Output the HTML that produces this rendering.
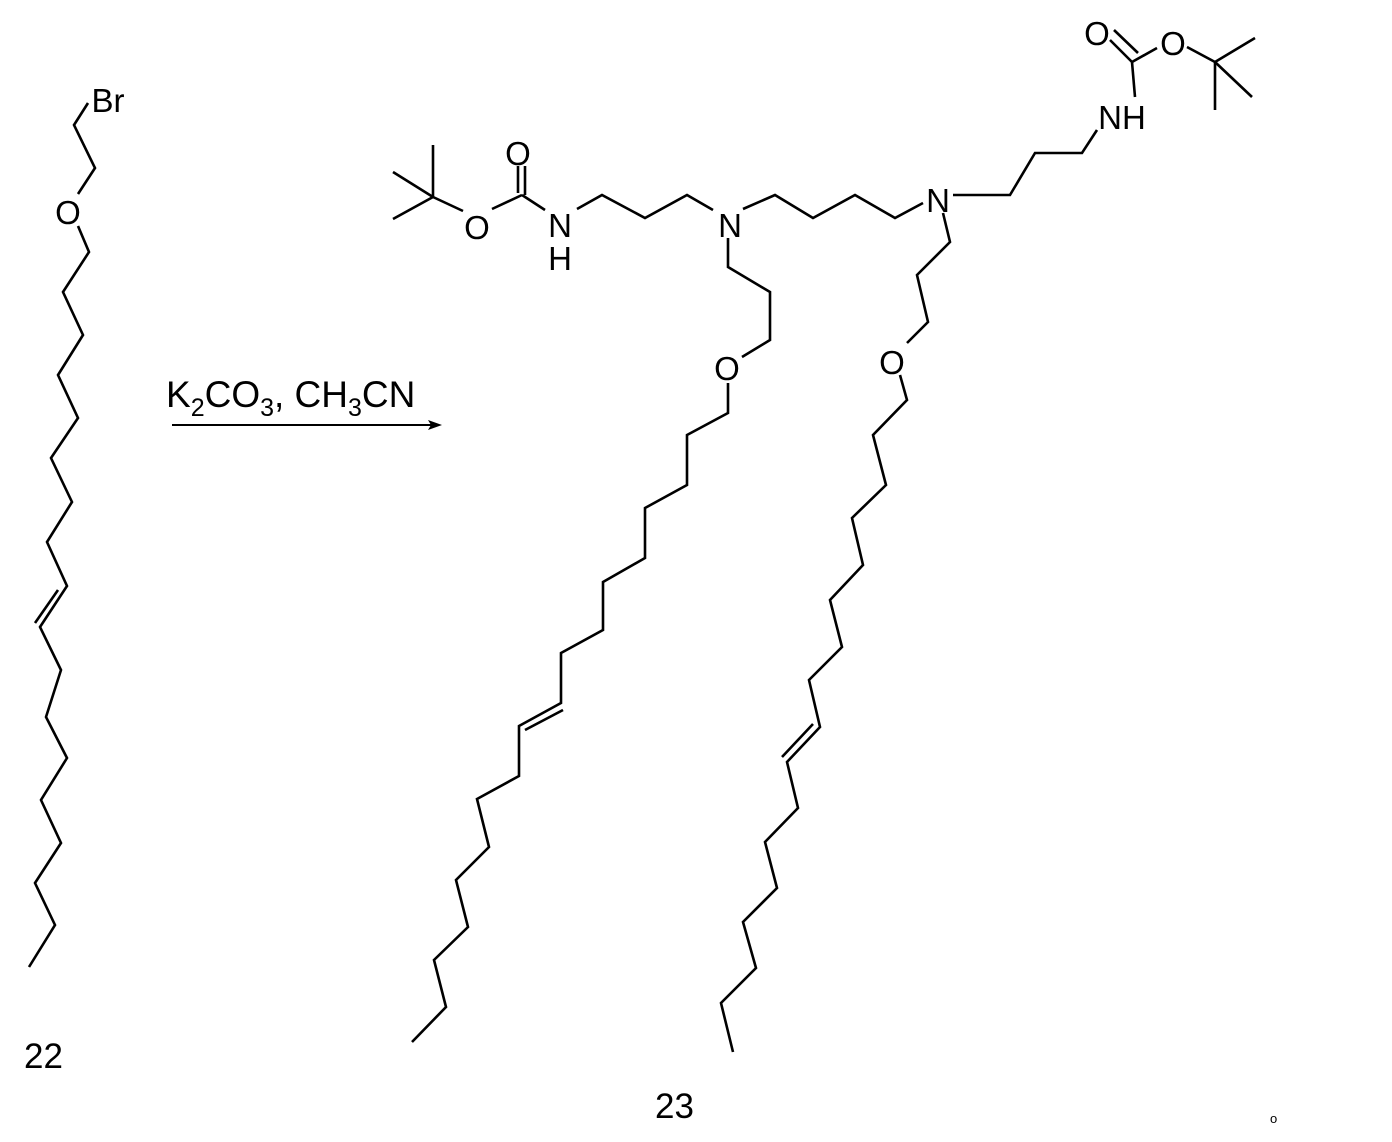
<!DOCTYPE html>
<html><head><meta charset="utf-8"><style>
html,body{margin:0;padding:0;background:#fff;}
svg{display:block;}
text{font-family:"Liberation Sans",sans-serif;fill:#000;}
</style></head><body>
<svg width="1392" height="1142" viewBox="0 0 1392 1142" xmlns="http://www.w3.org/2000/svg">
<g fill="none" stroke="#000" stroke-width="2.6" stroke-linejoin="miter" stroke-linecap="butt">
<polyline points="88,103 74,125 95,168 78,194"/>
<polyline points="78,226 89,252 63,292 83,335 58,375 78,418 51,458 72,502 47,542 67,586 40,627 61,670 46,717 67,758 41,800 61,843 35,883 55,925 29,967"/>
<line x1="58" y1="590" x2="35" y2="623"/>
<line x1="172" y1="425" x2="432" y2="425" stroke-width="2"/>
<line x1="433" y1="197" x2="393" y2="172"/>
<line x1="433" y1="197" x2="393" y2="219"/>
<line x1="433" y1="197" x2="433" y2="145"/>
<line x1="433" y1="197" x2="463" y2="211"/>
<line x1="492" y1="209" x2="522" y2="195"/>
<line x1="525" y1="195" x2="525" y2="166"/>
<line x1="518" y1="193" x2="518" y2="166"/>
<line x1="522" y1="195" x2="545" y2="210"/>
<polyline points="577,209 602,195 645,218 687,195 713,210"/>
<polyline points="743,209 775,195 813,218 855,195 895,218 923,203"/>
<polyline points="953,195 1010,195 1035,153 1082,153 1097,130"/>
<line x1="1135" y1="97" x2="1132" y2="62"/>
<line x1="1132" y1="62" x2="1110" y2="40"/>
<line x1="1138" y1="53" x2="1114" y2="30"/>
<line x1="1132" y1="62" x2="1157" y2="48"/>
<line x1="1187" y1="47" x2="1215" y2="62"/>
<line x1="1215" y1="62" x2="1255" y2="38"/>
<line x1="1215" y1="62" x2="1252" y2="97"/>
<line x1="1215" y1="62" x2="1215" y2="110"/>
<polyline points="728,238 728,267 770,292 770,340 742,357"/>
<polyline points="728,383 728,413 687,435 687,485 645,508 645,558 603,582 603,630 561,653 561,703 519,726 519,776 477,799 489,847 456,880 468,927 434,960 446,1007 412,1042"/>
<line x1="563" y1="710" x2="525" y2="730"/>
<polyline points="943,213 950,242 917,275 928,322 907,343"/>
<polyline points="900,375 907,400 873,435 886,485 852,518 863,565 830,600 842,647 809,680 820,727 787,762 798,808 765,842 777,888 743,922 756,968 721,1003 733,1052"/>
<line x1="813" y1="724" x2="782" y2="757"/>
</g>
<polygon points="442,425 428,420 431,425 428,430" fill="#000"/>
<g font-size="33" text-anchor="middle">
<text x="108" y="112">Br</text>
<text x="68" y="224">O</text>
<text x="477" y="239">O</text>
<text x="518" y="165">O</text>
<text x="560" y="237">N</text>
<text x="560" y="270">H</text>
<text x="730" y="237">N</text>
<text x="727" y="380">O</text>
<text x="938" y="212">N</text>
<text x="892" y="374">O</text>
<text x="1122" y="129">NH</text>
<text x="1097" y="45">O</text>
<text x="1173" y="55">O</text>
</g>
<text x="166" y="407" font-size="37">K<tspan font-size="25" dy="9">2</tspan><tspan dy="-9">CO</tspan><tspan font-size="25" dy="9">3</tspan><tspan dy="-9">, CH</tspan><tspan font-size="25" dy="9">3</tspan><tspan dy="-9">CN</tspan></text>
<text x="24" y="1068" font-size="35">22</text>
<text x="655" y="1118" font-size="35">23</text>
<text x="1270" y="1123" font-size="13">o</text>
</svg>
</body></html>
